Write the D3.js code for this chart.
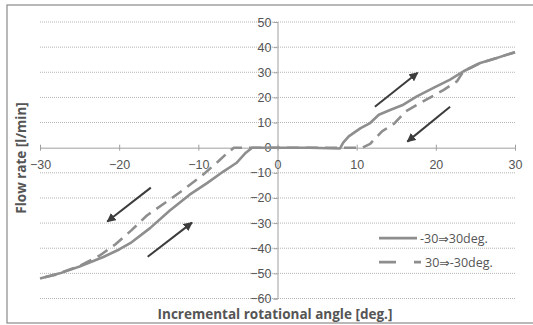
<!DOCTYPE html>
<html lang="en">
<head>
  <meta charset="UTF-8">
  <title>Flow rate vs incremental rotational angle</title>
  <style>
    body { margin: 0; overflow: hidden; background: #fff; }
    svg { display: block; font-family: "Open Sans", "DejaVu Sans", sans-serif; }
    .grid { stroke: #b4b4b4; stroke-width: 1; stroke-dasharray: 1,1; }
    .curve { fill: none; stroke: #8e8e8e; stroke-width: 2.6; stroke-linejoin: round; }
    .arrow { stroke: #3c3c3c; stroke-width: 2; marker-end: url(#head); }
    .tick text { fill: #555; font-size: 12.5px; }
  </style>
  <script src="https://d3js.org/d3.v7.min.js"></script>
</head>
<body>
  <svg width="533" height="325">
    <defs>
      <marker id="head" viewBox="0 0 10 10" refX="9" refY="5" markerWidth="4.5" markerHeight="4.5" orient="auto">
        <path d="M0,0 L10,5 L0,10 z" fill="#3c3c3c"/>
      </marker>
    </defs>
  </svg>
  <script>
    // -30 => 30 deg (solid)
    const upAngle = [-30, -27.5, -25, -22, -20, -18.6, -16.1, -13.6, -11.1, -8.9, -6.8, -5.2, -4, -3.2,
                     0, 4, 7.9, 8.3, 9, 10.5, 11.7, 12.8, 14.3, 15.9, 17.6, 19.7, 21.8, 23.5, 25.6, 27.7, 30];
    const upFlow  = [-52, -50, -47.3, -43.5, -40.5, -38, -32, -25, -18.7, -14.1, -9.4, -6.1, -2, 0,
                     0, 0, -0.3, 2, 4.5, 7.8, 9.8, 13.1, 15.1, 17.1, 20.4, 23.8, 27.1, 30.4, 33.7, 35.7, 38];

    // 30 => -30 deg (dashed)
    const downAngle = [30, 27.7, 25.6, 23.5, 22.7, 21, 19.9, 17.6, 16.2, 14.7, 13.2, 11.7, 10.7,
                       0, -5.5, -6.3, -7.5, -9.5, -12, -14, -16.5, -18.5, -20.5, -22.5, -25, -28, -30];
    const downFlow  = [38, 35.7, 33.7, 30.4, 26.5, 23, 21, 17, 14.5, 9.5, 6.5, 1.5, 0,
                       0, 0, -2, -5.5, -11, -17, -21.5, -27, -33, -38.5, -43, -47, -50.5, -52];

    const xTicks = [-30, -20, -10, 0, 10, 20, 30];
    const yTicks = [-60, -50, -40, -30, -20, -10, 0, 10, 20, 30, 40, 50];

    // arrows: [x1, y1, x2, y2] in data units
    const arrows = [
      [12.3, 16.3, 17.7, 29.8],
      [21.8, 16.3, 16.4, 2.4],
      [-16.0, -15.9, -21.5, -29.4],
      [-16.4, -43.4, -10.8, -29.8]
    ];

    const seriesNames = ["-30\u21d230deg.", "30\u21d2-30deg."];

    const svg = d3.select("svg");
    const x = d3.scaleLinear().domain([-30, 30]).range([40, 515]);
    const y = d3.scaleLinear().domain([-60, 50]).range([298.5, 22]);

    // outer frame
    svg.append("rect").attr("x", 7).attr("y", 5).attr("width", 540).attr("height", 318)
      .attr("fill", "none").attr("stroke", "#8a8a8a").attr("stroke-width", 1.2);

    // gridlines
    svg.append("g").selectAll("line")
      .data(yTicks.filter(d => d !== 0))
      .join("line")
      .attr("class", "grid")
      .attr("x1", x(-30)).attr("x2", x(30))
      .attr("y1", d => y(d)).attr("y2", d => y(d));

    // y axis at x = 0
    const yAxis = svg.append("g")
      .attr("transform", `translate(${x(0)},0)`)
      .call(d3.axisLeft(y).tickValues(yTicks).tickSize(4).tickPadding(2));
    yAxis.select(".domain").attr("stroke", "#a0a0a0");
    yAxis.selectAll(".tick line").attr("stroke", "#a0a0a0");

    // x axis at y = 0
    const xAxis = svg.append("g")
      .attr("transform", `translate(0,${y(0)})`)
      .call(d3.axisBottom(x).tickValues(xTicks).tickSize(0).tickPadding(12));
    xAxis.select(".domain").attr("stroke", "#a0a0a0");
    xAxis.selectAll(".tick").append("line")
      .attr("y1", -3).attr("y2", 3).attr("stroke", "#a0a0a0");

    const line = d3.line().x(d => x(d[0])).y(d => y(d[1]));

    svg.append("path")
      .datum(d3.zip(downAngle, downFlow))
      .attr("class", "curve")
      .attr("stroke-dasharray", "12,7")
      .attr("d", line);

    svg.append("path")
      .datum(d3.zip(upAngle, upFlow))
      .attr("class", "curve")
      .attr("d", line);

    svg.append("g").selectAll("line")
      .data(arrows)
      .join("line")
      .attr("class", "arrow")
      .attr("x1", d => x(d[0])).attr("y1", d => y(d[1]))
      .attr("x2", d => x(d[2])).attr("y2", d => y(d[3]));

    // legend
    const legend = svg.append("g").attr("transform", `translate(379,${y(-36)})`);
    const rows = legend.selectAll("g")
      .data(seriesNames)
      .join("g")
      .attr("transform", (d, i) => `translate(0,${i * 24})`);
    rows.append("line")
      .attr("x1", 0).attr("x2", (d, i) => i ? 42 : 38)
      .attr("stroke", "#8e8e8e").attr("stroke-width", 2.6)
      .attr("stroke-dasharray", (d, i) => i ? "17,18" : null);
    rows.append("text")
      .attr("x", (d, i) => i ? 46 : 41)
      .attr("dy", "0.35em")
      .attr("fill", "#555")
      .attr("font-size", "12.5px")
      .text(d => d);

    // axis titles
    svg.append("text")
      .attr("x", 275).attr("y", 318.5)
      .attr("text-anchor", "middle")
      .attr("font-weight", "bold").attr("font-size", "13.5px").attr("fill", "#555")
      .text("Incremental rotational angle [deg.]");

    svg.append("text")
      .attr("transform", "translate(26,158) rotate(-90)")
      .attr("text-anchor", "middle")
      .attr("font-weight", "bold").attr("font-size", "13.5px").attr("fill", "#555")
      .text("Flow rate [l/min]");
  </script>
</body>
</html>
